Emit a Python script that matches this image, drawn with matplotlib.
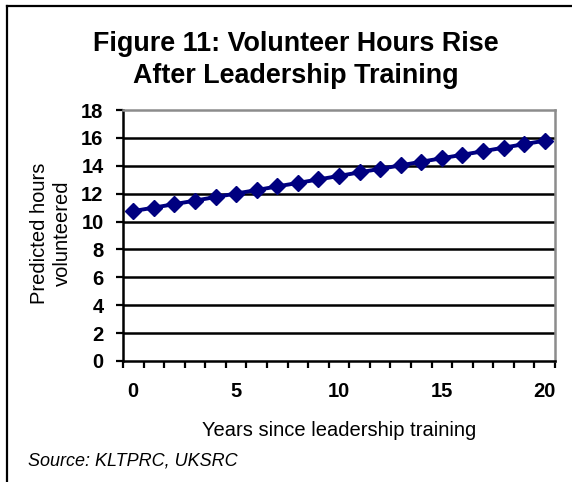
import matplotlib
matplotlib.use("Agg")
import matplotlib.pyplot as plt
from matplotlib.lines import Line2D

# ---- data ----
years = list(range(0, 21))
hours = [10.75, 11.00, 11.25, 11.50, 11.76, 12.01, 12.26, 12.52, 12.77, 13.02,
         13.27, 13.53, 13.78, 14.03, 14.29, 14.54, 14.79, 15.04, 15.30, 15.55, 15.80]
y_ticks = [0, 2, 4, 6, 8, 10, 12, 14, 16, 18]
x_tick_labels = [0, 5, 10, 15, 20]

title_lines = ["Figure 11: Volunteer Hours Rise", "After Leadership Training"]
x_label = "Years since leadership training"
y_label = "Predicted hours\nvolunteered"
source = "Source: KLTPRC, UKSRC"

plt.rcParams['font.family'] = ['Liberation Sans', 'DejaVu Sans']

W, H = 572, 482
fig = plt.figure(figsize=(W / 100, H / 100), dpi=100)
fig.patch.set_facecolor('white')

ax = fig.add_axes([123 / W, 1 - 361 / H, (555 - 123) / W, (361 - 110) / H])

ax.plot(years, hours, color='#000080', lw=2.8, marker='D', ms=7.8,
        mfc='#000080', mec='#000080', mew=1, zorder=5, clip_on=False)

ax.set_xlim(-0.5, 20.5)
ax.set_ylim(0, 18)

# y axis
ax.set_yticks(y_ticks)
ax.set_yticklabels([str(v) for v in y_ticks])
ax.tick_params(axis='y', which='major', direction='out', length=5, width=1.6,
               pad=9, labelsize=14.5, color='black')
for lab in ax.get_yticklabels():
    lab.set_fontweight('bold')

# x axis: labels at 0,5,...; ticks at category boundaries
ax.set_xticks(x_tick_labels)
ax.set_xticklabels([str(v) for v in x_tick_labels])
ax.set_xticks([i - 0.5 for i in range(len(years) + 1)], minor=True)
ax.tick_params(axis='x', which='major', length=0, pad=15, labelsize=14.5)
ax.tick_params(axis='x', which='minor', direction='out', length=5, width=1.6,
               color='black')
for lab in ax.get_xticklabels():
    lab.set_fontweight('bold')

# grid lines
ax.yaxis.grid(True, color='black', lw=1.8)
ax.set_axisbelow(True)
gl = ax.get_ygridlines()
gl[0].set_visible(False)
gl[-1].set_visible(False)

for s in ['left', 'bottom']:
    ax.spines[s].set_color('black')
    ax.spines[s].set_linewidth(1.8)
for s in ['top', 'right']:
    ax.spines[s].set_color('#8c8c8c')
    ax.spines[s].set_linewidth(1.8)

# labels
ax.set_xlabel(x_label, fontsize=14.5)
ax.xaxis.set_label_coords(0.5, (361 - 431) / 251)
ax.xaxis.label.set_va('center')
ax.set_ylabel(y_label, fontsize=14.5, linespacing=1.3)
ax.yaxis.set_label_coords((51 - 123) / 432, (361 - 233) / 251)
ax.yaxis.label.set_va('center')

# title (two lines)
fig.text(296 / W, 1 - 51 / H, title_lines[0], ha='center', va='baseline',
         fontsize=19.4, fontweight='bold')
fig.text(296 / W, 1 - 83 / H, title_lines[1], ha='center', va='baseline',
         fontsize=19.4, fontweight='bold')

# source
fig.text(28 / W, 1 - 461 / H, source, ha='left', va='center',
         fontsize=13, fontstyle='italic')

# outer frame (left and top edges visible)
fig.add_artist(Line2D([7 / W, 7 / W], [0, 1 - 6 / H], transform=fig.transFigure,
                      color='black', lw=1.6))
fig.add_artist(Line2D([7 / W, 1], [1 - 6 / H, 1 - 6 / H], transform=fig.transFigure,
                      color='black', lw=1.6))

fig.savefig('out.png', dpi=100)
